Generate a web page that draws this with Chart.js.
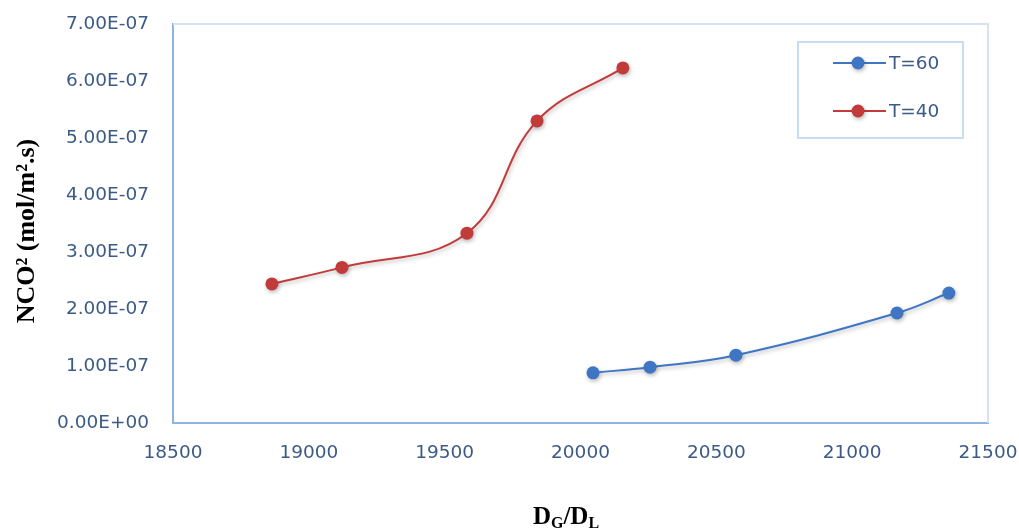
<!DOCTYPE html>
<html>
<head>
<meta charset="utf-8">
<script src="https://cdn.jsdelivr.net/npm/chart.js@4/dist/chart.umd.min.js"></script>
<style>
  html, body { margin: 0; padding: 0; background: #ffffff; }
  #wrap { width: 1019px; height: 529px; position: relative; }
</style>
</head>
<body>
<div id="wrap"><canvas id="c" width="1019" height="529"></canvas></div>
<script>
// ---- data ----
const seriesNames = ['T=60', 'T=40'];
const t60X = [20046, 20256, 20572, 21165, 21356];
const t60Y = [8.8e-8, 9.8e-8, 1.19e-7, 1.93e-7, 2.28e-7];
const t40X = [18864, 19122, 19582, 19840, 20156];
const t40Y = [2.44e-7, 2.73e-7, 3.33e-7, 5.30e-7, 6.23e-7];
const xTicks = [18500, 19000, 19500, 20000, 20500, 21000, 21500];
const yTicks = [0, 1e-7, 2e-7, 3e-7, 4e-7, 5e-7, 6e-7, 7e-7];
const yTitle = 'NCO\u00B2 (mol/m\u00B2.s)';
const xTitleParts = [['D', false], ['G', true], ['/', false], ['D', false], ['L', true]];

const labelColor = '#3b5a87';
const blue = '#3f76c4';
const red = '#c23b3b';
const tickFont = { family: 'DejaVu Sans', size: 18.5 };

function pts(xs, ys) { return xs.map((x, i) => ({ x: x, y: ys[i] })); }

function fmtExp(v) {
  const s = Number(v).toExponential(2);
  const parts = s.split('e');
  const sign = parts[1][0] === '-' ? '-' : '+';
  let d = parts[1].replace(/[+-]/, '');
  if (d.length < 2) d = '0' + d;
  return parts[0] + 'E' + sign + d;
}

function zeroPad(s) { s.paddingLeft = 0; s.paddingRight = 0; s.paddingTop = 0; s.paddingBottom = 0; }

const framePlugin = {
  id: 'frame',
  beforeDatasetsDraw(chart) {
    const { ctx, chartArea: a } = chart;
    ctx.save();
    ctx.strokeStyle = '#d3e2f6';
    ctx.lineWidth = 2;
    ctx.beginPath();
    ctx.moveTo(a.left, a.top);
    ctx.lineTo(a.right, a.top);
    ctx.lineTo(a.right, a.bottom);
    ctx.stroke();
    ctx.restore();
  }
};

const shadowPlugin = {
  id: 'shadow',
  beforeDatasetDraw(chart) {
    const ctx = chart.ctx;
    ctx.save();
    ctx.shadowColor = 'rgba(0,0,0,0.28)';
    ctx.shadowBlur = 4;
    ctx.shadowOffsetX = 1;
    ctx.shadowOffsetY = 2;
  },
  afterDatasetDraw(chart) {
    chart.ctx.restore();
  }
};

const titlesPlugin = {
  id: 'titles',
  afterDraw(chart) {
    const ctx = chart.ctx;
    ctx.save();
    // y title
    ctx.fillStyle = '#000000';
    ctx.font = 'bold 26px "Liberation Serif"';
    ctx.textAlign = 'center';
    ctx.textBaseline = 'middle';
    ctx.translate(27, 231);
    ctx.rotate(-Math.PI / 2);
    ctx.fillText(yTitle, 0, 0);
    ctx.restore();

    // x title with subscripts
    ctx.save();
    ctx.fillStyle = '#000000';
    ctx.textBaseline = 'alphabetic';
    ctx.textAlign = 'left';
    const big = 'bold 25px "Liberation Serif"';
    const small = 'bold 16px "Liberation Serif"';
    let total = 0;
    xTitleParts.forEach(p => { ctx.font = p[1] ? small : big; total += ctx.measureText(p[0]).width; });
    let x = 566 - total / 2;
    xTitleParts.forEach(p => {
      ctx.font = p[1] ? small : big;
      ctx.fillText(p[0], x, p[1] ? 528 : 524);
      x += ctx.measureText(p[0]).width;
    });
    ctx.restore();

    // legend
    ctx.save();
    const lx = 798, ly = 42, lw = 165, lh = 96;
    ctx.strokeStyle = '#c9dbf3';
    ctx.lineWidth = 2;
    ctx.strokeRect(lx, ly, lw, lh);
    const rows = [63, 111];
    chart.data.datasets.forEach((ds, i) => {
      const y = rows[i];
      ctx.strokeStyle = ds.borderColor;
      ctx.lineWidth = 2;
      ctx.beginPath();
      ctx.moveTo(833, y);
      ctx.lineTo(886, y);
      ctx.stroke();
      ctx.save();
      ctx.shadowColor = 'rgba(0,0,0,0.28)';
      ctx.shadowBlur = 4;
      ctx.shadowOffsetX = 1;
      ctx.shadowOffsetY = 2;
      ctx.fillStyle = ds.pointBackgroundColor;
      ctx.beginPath();
      ctx.arc(858, y, 6.5, 0, Math.PI * 2);
      ctx.fill();
      ctx.restore();
      ctx.fillStyle = labelColor;
      ctx.font = '18.5px "DejaVu Sans"';
      ctx.textAlign = 'left';
      ctx.textBaseline = 'middle';
      ctx.fillText(ds.label, 889, y + 1);
    });
    ctx.restore();
  }
};

new Chart(document.getElementById('c'), {
  type: 'line',
  data: {
    datasets: [
      {
        label: seriesNames[0],
        data: pts(t60X, t60Y),
        borderColor: blue,
        backgroundColor: blue,
        pointBackgroundColor: blue,
        pointBorderColor: blue,
        pointRadius: 6.5,
        pointBorderWidth: 0,
        borderWidth: 2,
        tension: 0.4,
        fill: false
      },
      {
        label: seriesNames[1],
        data: pts(t40X, t40Y),
        borderColor: red,
        backgroundColor: red,
        pointBackgroundColor: red,
        pointBorderColor: red,
        pointRadius: 6.5,
        pointBorderWidth: 0,
        borderWidth: 2,
        tension: 0.4,
        fill: false
      }
    ]
  },
  options: {
    responsive: false,
    animation: false,
    events: [],
    layout: { padding: { left: 0, right: 31, top: 24, bottom: 0 } },
    plugins: { legend: { display: false }, tooltip: { enabled: false }, title: { display: false } },
    scales: {
      x: {
        type: 'linear',
        min: xTicks[0],
        max: xTicks[xTicks.length - 1],
        afterBuildTicks(s) { s.ticks = xTicks.map(v => ({ value: v })); },
        afterFit(s) { s.height = 106; zeroPad(s); },
        grid: { display: false, drawTicks: false },
        border: { display: true, color: '#8db3e2', width: 2 },
        ticks: { color: labelColor, font: tickFont, padding: 19, maxRotation: 0, autoSkip: false,
                 callback: v => String(v) }
      },
      y: {
        type: 'linear',
        min: yTicks[0],
        max: yTicks[yTicks.length - 1],
        afterBuildTicks(s) { s.ticks = yTicks.map(v => ({ value: v })); },
        afterFit(s) { s.width = 173; zeroPad(s); },
        grid: { display: false, drawTicks: false },
        border: { display: true, color: '#8db3e2', width: 2 },
        ticks: { color: labelColor, font: tickFont, padding: 24, callback: v => fmtExp(v) }
      }
    }
  },
  plugins: [framePlugin, shadowPlugin, titlesPlugin]
});
</script>
</body>
</html>
